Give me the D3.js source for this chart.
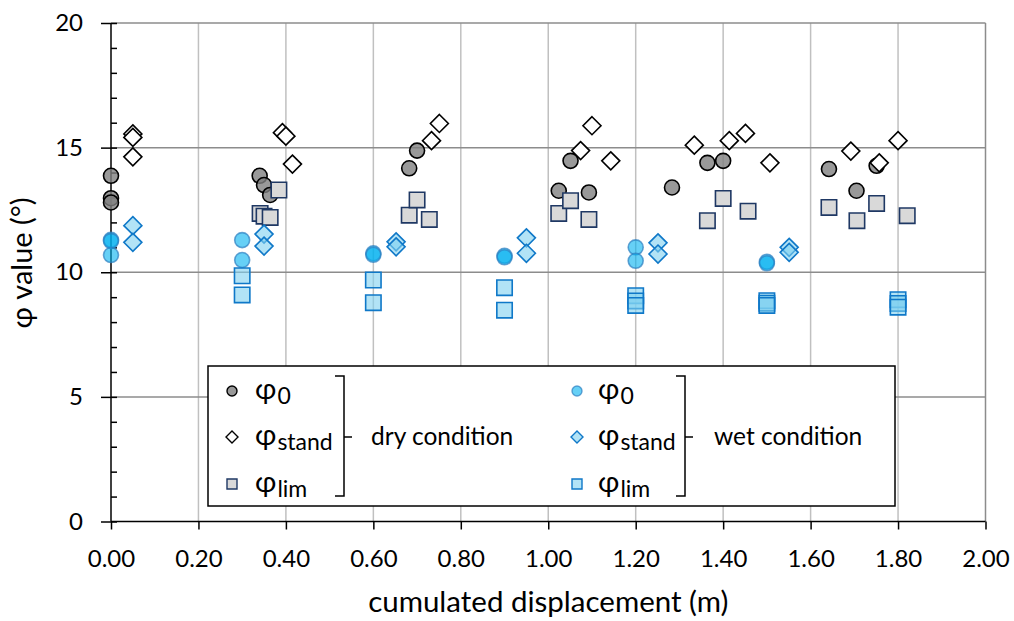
<!DOCTYPE html>
<html>
<head>
<meta charset="utf-8">
<script src="https://cdn.jsdelivr.net/npm/d3@7"></script>
<style>
body { margin: 0; background: #fff; }
text { font-family: Lato, "Noto Sans", sans-serif; fill: #000; }
</style>
</head>
<body>
<svg id="chart1" width="1014" height="621"></svg>
<script>
// [cumulated displacement (m), phi value (deg)]
var dryPhi0 = [[0, 13.87], [0, 12.97], [0, 12.8], [0.34, 13.87], [0.35, 13.5], [0.364, 13.1],
    [0.682, 14.17], [0.70, 14.88], [1.024, 13.27], [1.051, 14.47], [1.093, 13.2], [1.283, 13.4],
    [1.364, 14.39], [1.40, 14.47], [1.642, 14.14], [1.705, 13.27], [1.751, 14.27]];
var dryStand = [[0.05, 15.55], [0.05, 15.41], [0.05, 14.63], [0.392, 15.6], [0.40, 15.46], [0.415, 14.34],
    [0.733, 15.28], [0.751, 15.97], [1.074, 14.88], [1.10, 15.88], [1.143, 14.47], [1.334, 15.1],
    [1.414, 15.28], [1.451, 15.57], [1.507, 14.39], [1.692, 14.86], [1.757, 14.39], [1.80, 15.28]];
var dryLim = [[0.341, 12.36], [0.35, 12.25], [0.364, 12.2], [0.384, 13.3], [0.682, 12.29], [0.70, 12.9],
    [0.728, 12.12], [1.024, 12.36], [1.051, 12.87], [1.093, 12.12], [1.364, 12.07], [1.40, 12.96],
    [1.457, 12.45], [1.642, 12.6], [1.706, 12.07], [1.751, 12.76], [1.821, 12.27]];
var wetPhi0 = [[0, 11.3], [0, 11.25], [0, 10.69], [0.3, 11.29], [0.3, 10.49], [0.6, 10.76], [0.6, 10.7],
    [0.9, 10.66], [0.9, 10.6], [1.2, 11.0], [1.2, 10.46], [1.5, 10.42], [1.5, 10.36]];
var wetStand = [[0.05, 11.87], [0.05, 11.2], [0.35, 11.53], [0.35, 11.05], [0.652, 11.22], [0.652, 11.02],
    [0.95, 11.38], [0.95, 10.76], [1.251, 11.18], [1.251, 10.73], [1.551, 11.0], [1.551, 10.8]];
var wetLim = [[0.3, 9.86], [0.3, 9.09], [0.6, 9.69], [0.6, 8.78], [0.9, 9.38], [0.9, 8.48],
    [1.2, 9.06], [1.2, 8.85], [1.2, 8.67], [1.5, 8.86], [1.5, 8.76], [1.5, 8.67],
    [1.8, 8.9], [1.8, 8.75], [1.8, 8.6]];

var xTicks = [0, 0.2, 0.4, 0.6, 0.8, 1.0, 1.2, 1.4, 1.6, 1.8, 2.0];
var yTicks = [0, 5, 10, 15, 20];
var yMinorTicks = d3.range(0, 21, 1);

var dimensions = {
    width: 1014,
    height: 621,
    margin: { top: 23, bottom: 99.5, left: 111, right: 28.5 }
};

var svg = d3.select("#chart1");

var xScale = d3.scaleLinear()
    .domain([0, 2])
    .range([dimensions.margin.left, dimensions.width - dimensions.margin.right]);
var yScale = d3.scaleLinear()
    .domain([0, 20])
    .range([dimensions.height - dimensions.margin.bottom, dimensions.margin.top]);

var x0 = xScale(0), x1 = xScale(2), y0 = yScale(0), y1 = yScale(20);

// gridlines
svg.append("g").selectAll("line")
    .data(xTicks.filter(d => d > 0))
    .enter().append("line")
    .attr("x1", d => xScale(d)).attr("x2", d => xScale(d))
    .attr("y1", y0).attr("y2", y1)
    .attr("stroke", d => d === 2 ? "#8c8c8c" : "#c0c0c0")
    .attr("stroke-width", 1.5);
svg.append("g").selectAll("line")
    .data(yTicks.filter(d => d > 0))
    .enter().append("line")
    .attr("x1", x0).attr("x2", x1)
    .attr("y1", d => yScale(d)).attr("y2", d => yScale(d))
    .attr("stroke", "#8c8c8c")
    .attr("stroke-width", 1.5);

// axes
var xAxis = svg.append("g")
    .attr("transform", `translate(0,${y0})`)
    .call(d3.axisBottom(xScale).tickValues(xTicks).tickFormat(d3.format(".2f")).tickSize(8).tickPadding(20));
var yAxis = svg.append("g")
    .attr("transform", `translate(${x0},0)`)
    .call(d3.axisLeft(yScale).tickValues(yTicks).tickFormat(d3.format("d")).tickSize(10).tickPadding(18));
var yMinor = svg.append("g")
    .attr("transform", `translate(${x0},0)`)
    .call(d3.axisRight(yScale).tickValues(yMinorTicks).tickFormat("").tickSize(6));
yMinor.select(".domain").remove();

[xAxis, yAxis, yMinor].forEach(g => {
    g.selectAll("path,line").attr("stroke", "#000").attr("stroke-width", 1.5);
    g.selectAll("text").style("font-size", "24px");
});
xAxis.select(".domain").attr("d", `M${x0},0H${x1}`);
yAxis.select(".domain").attr("d", `M0,${y0}V${y1}`);

// axis titles
svg.append("text")
    .attr("x", (x0 + x1) / 2).attr("y", 612)
    .attr("text-anchor", "middle")
    .style("font-size", "29.5px")
    .text("cumulated displacement (m)");
svg.append("text")
    .attr("transform", "translate(32,263) rotate(-90)")
    .attr("text-anchor", "middle")
    .style("font-size", "29px")
    .text("φ value (°)");

// marker styles
var styles = {
    dryPhi0: { shape: "circle", fill: "#7f7f7f", fo: 0.8, stroke: "#000", so: 1 },
    dryStand: { shape: "diamond", fill: "#fff", fo: 1, stroke: "#000", so: 1 },
    dryLim: { shape: "square", fill: "#d9d9d9", fo: 1, stroke: "#1f3864", so: 1 },
    wetPhi0: { shape: "circle", fill: "#00b0f0", fo: 0.6, stroke: "#2e7fc0", so: 0.7 },
    wetStand: { shape: "diamond", fill: "#7fd0f0", fo: 0.6, stroke: "#0f78c8", so: 1 },
    wetLim: { shape: "square", fill: "#7fd0f0", fo: 0.6, stroke: "#0f78c8", so: 1 }
};

function shapePath(shape, s) {
    if (shape === "circle") return d3.symbol(d3.symbolCircle, Math.PI * s * s)();
    if (shape === "square") return `M${-s},${-s}H${s}V${s}H${-s}Z`;
    return `M0,${-s * 1.2}L${s * 1.2},0L0,${s * 1.2}L${-s * 1.2},0Z`;
}

var seriesList = [
    ["dryPhi0", dryPhi0], ["dryStand", dryStand], ["dryLim", dryLim],
    ["wetPhi0", wetPhi0], ["wetStand", wetStand], ["wetLim", wetLim]
];

seriesList.forEach(([name, data]) => {
    var st = styles[name];
    var size = st.shape === "square" ? 7.7 : 7.5;
    svg.append("g").selectAll("path")
        .data(data)
        .enter().append("path")
        .attr("d", shapePath(st.shape, size))
        .attr("transform", d => `translate(${xScale(d[0])},${yScale(d[1])})`)
        .attr("fill", st.fill).attr("fill-opacity", st.fo)
        .attr("stroke", st.stroke).attr("stroke-opacity", st.so)
        .attr("stroke-width", 1.6);
});

// legend
var legend = svg.append("g");
legend.append("rect")
    .attr("x", 208).attr("y", 366).attr("width", 687).attr("height", 140)
    .attr("fill", "#fff").attr("stroke", "#000").attr("stroke-width", 1.5);

var legendRows = [
    { key: "Phi0", sub: "0", y: 391 },
    { key: "Stand", sub: "stand", y: 437 },
    { key: "Lim", sub: "lim", y: 484 }
];
var legendGroups = [
    { prefix: "dry", mx: 232, tx: 255, bx: 344, label: "dry condition", lx: 371 },
    { prefix: "wet", mx: 577, tx: 598, bx: 685, label: "wet condition", lx: 714 }
];

legendGroups.forEach(grp => {
    legendRows.forEach(row => {
        var st = styles[grp.prefix + row.key];
        legend.append("path")
            .attr("d", shapePath(st.shape, 5))
            .attr("transform", `translate(${grp.mx},${row.y})`)
            .attr("fill", st.fill).attr("fill-opacity", st.fo)
            .attr("stroke", st.stroke).attr("stroke-opacity", st.so)
            .attr("stroke-width", 1.4);
        var t = legend.append("text")
            .attr("x", grp.tx).attr("y", row.y + 8)
            .style("font-size", "29px");
        t.append("tspan").text("φ");
        t.append("tspan").attr("dx", 1).attr("dy", 5).style("font-size", "23px").text(row.sub);
    });
    // bracket
    legend.append("path")
        .attr("d", `M${grp.bx - 9},376H${grp.bx}V496H${grp.bx - 9}M${grp.bx},437H${grp.bx + 8}`)
        .attr("fill", "none").attr("stroke", "#000").attr("stroke-width", 1.5);
    legend.append("text")
        .attr("x", grp.lx).attr("y", 445)
        .style("font-size", "24.5px")
        .text(grp.label);
});
</script>
</body>
</html>
